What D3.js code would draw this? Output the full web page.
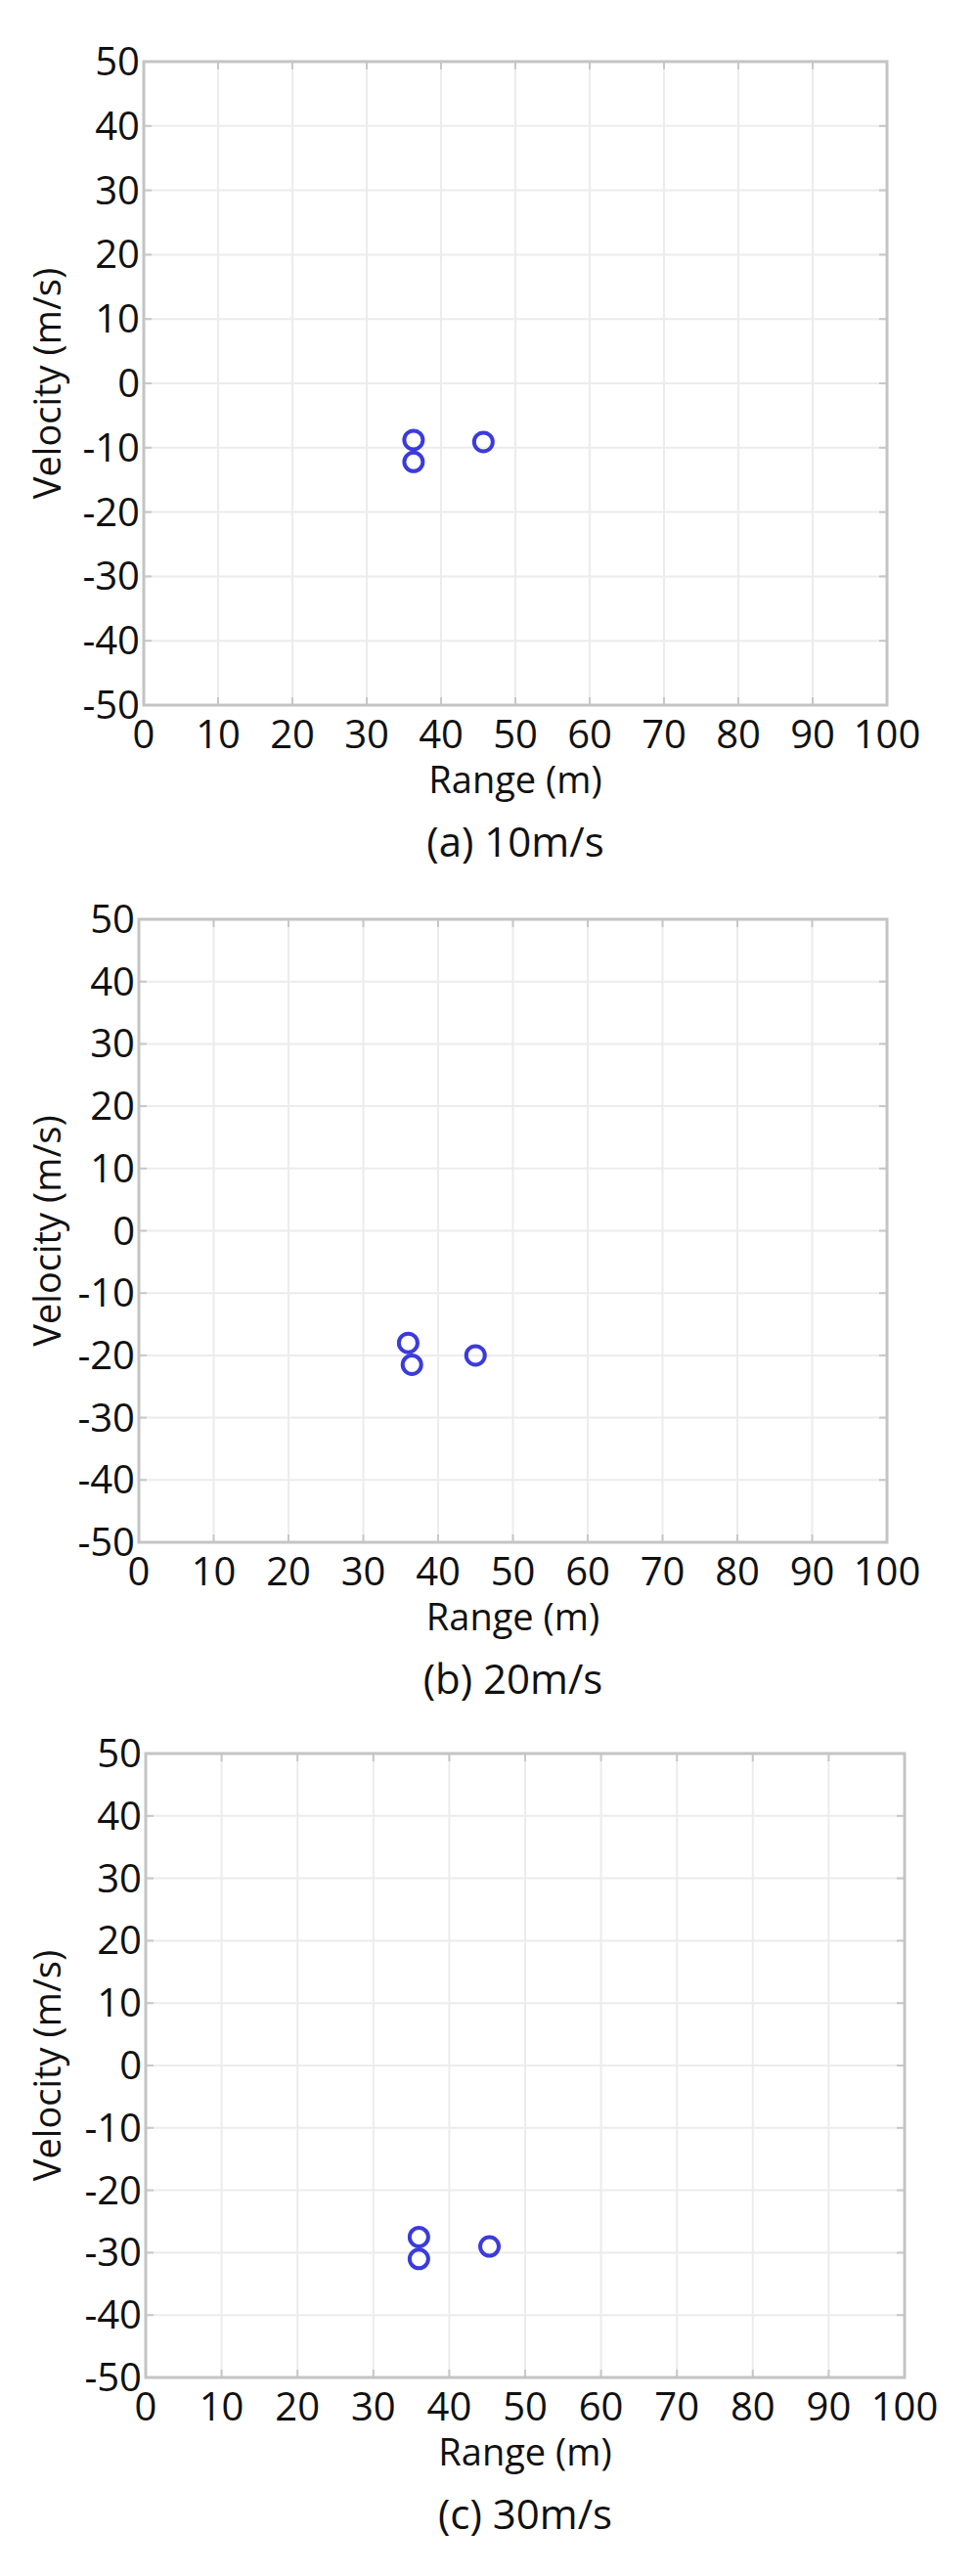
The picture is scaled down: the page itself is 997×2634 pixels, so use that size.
<!DOCTYPE html>
<html><head><meta charset="utf-8">
<script src="https://cdn.jsdelivr.net/npm/d3@7"></script>
<style>body{margin:0;background:#fff}</style></head>
<body><svg id="c" width="997" height="2634"></svg>
<script>
const xTicks = [0,10,20,30,40,50,60,70,80,90,100];
const yTicks = [-50,-40,-30,-20,-10,0,10,20,30,40,50];
const titles = ["(a) 10m/s","(b) 20m/s","(c) 30m/s"];
const rangeA = [36.3,36.3,45.7], velA = [-8.8,-12.2,-9.1];
const rangeB = [36.0,36.5,45.0], velB = [-18.0,-21.5,-20.0];
const rangeC = [36.0,36.0,45.3], velC = [-27.5,-31.0,-29.0];
const series = [[rangeA,velA],[rangeB,velB],[rangeC,velC]];
const boxes = [
  {l:147,r:907,t:63,b:721},
  {l:142,r:907,t:940,b:1577},
  {l:149,r:925,t:1793,b:2431}
];
const svg = d3.select("#c");
const F = "'Open Sans','Noto Sans',sans-serif";
boxes.forEach((bx,i)=>{
  const x = d3.scaleLinear().domain([0,100]).range([bx.l,bx.r]);
  const y = d3.scaleLinear().domain([-50,50]).range([bx.b,bx.t]);
  const g = svg.append("g");
  g.selectAll(".gx").data(xTicks).enter().append("line")
    .attr("x1",d=>x(d)).attr("x2",d=>x(d)).attr("y1",bx.t).attr("y2",bx.b)
    .attr("stroke","#ececec").attr("stroke-width",2);
  g.selectAll(".gy").data(yTicks).enter().append("line")
    .attr("y1",d=>y(d)).attr("y2",d=>y(d)).attr("x1",bx.l).attr("x2",bx.r)
    .attr("stroke","#ececec").attr("stroke-width",2);
  xTicks.forEach(d=>{
    g.append("line").attr("x1",x(d)).attr("x2",x(d)).attr("y1",bx.b).attr("y2",bx.b-8).attr("stroke","#c8c8c8").attr("stroke-width",2);
    g.append("line").attr("x1",x(d)).attr("x2",x(d)).attr("y1",bx.t).attr("y2",bx.t+8).attr("stroke","#c8c8c8").attr("stroke-width",2);
  });
  yTicks.forEach(d=>{
    g.append("line").attr("x1",bx.l).attr("x2",bx.l+8).attr("y1",y(d)).attr("y2",y(d)).attr("stroke","#c8c8c8").attr("stroke-width",2);
    g.append("line").attr("x1",bx.r).attr("x2",bx.r-8).attr("y1",y(d)).attr("y2",y(d)).attr("stroke","#c8c8c8").attr("stroke-width",2);
  });
  g.append("rect").attr("x",bx.l).attr("y",bx.t).attr("width",bx.r-bx.l).attr("height",bx.b-bx.t)
    .attr("fill","none").attr("stroke","#c4c4c4").attr("stroke-width",3);
  g.selectAll(".xl").data(xTicks).enter().append("text")
    .attr("x",d=>x(d)).attr("y",bx.b+44).attr("text-anchor","middle")
    .attr("font-family",F).attr("font-size",40).attr("fill","#111").text(d=>d);
  g.selectAll(".yl").data(yTicks).enter().append("text")
    .attr("x",bx.l-4).attr("y",d=>y(d)+14).attr("text-anchor","end")
    .attr("font-family",F).attr("font-size",40).attr("fill","#111").text(d=>d);
  g.append("text").attr("x",(bx.l+bx.r)/2).attr("y",bx.b+90).attr("text-anchor","middle")
    .attr("font-family",F).attr("font-size",38).attr("fill","#111").text("Range (m)");
  g.append("text").attr("transform",`translate(62,${(bx.t+bx.b)/2}) rotate(-90)`).attr("text-anchor","middle")
    .attr("font-family",F).attr("font-size",38).attr("fill","#111").text("Velocity (m/s)");
  g.append("text").attr("x",(bx.l+bx.r)/2).attr("y",bx.b+155).attr("text-anchor","middle")
    .attr("font-family",F).attr("font-size",42).attr("fill","#111").text(titles[i]);
  const [rs,vs] = series[i];
  g.selectAll(".pt").data(rs.map((r,k)=>[r,vs[k]])).enter().append("circle")
    .attr("cx",d=>x(d[0])).attr("cy",d=>y(d[1])).attr("r",9.5)
    .attr("fill","none").attr("stroke","#3b3bdc").attr("stroke-width",4);
});
</script></body></html>
